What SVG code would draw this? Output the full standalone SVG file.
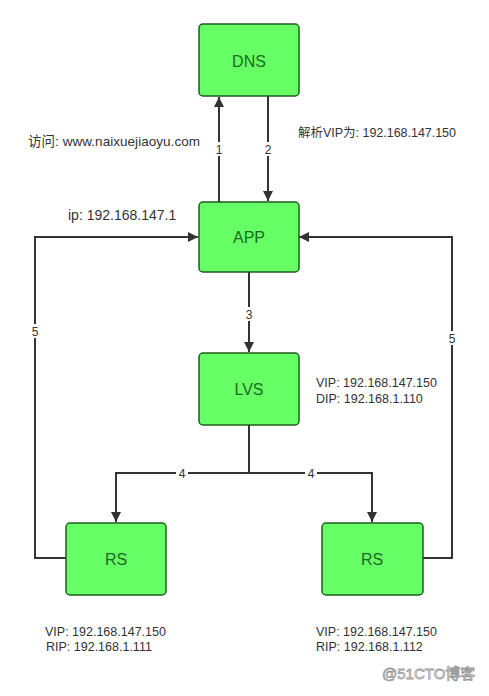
<svg xmlns="http://www.w3.org/2000/svg" width="489" height="696" viewBox="0 0 489 696">
<style>
.box{fill:#66ff66;stroke:#1e5e1e;stroke-width:1.5}
.bt{font-family:"Liberation Sans",Arial,sans-serif;font-size:16px;fill:#1b6b1b;text-anchor:middle}
.c{fill:none;stroke:#333;stroke-width:2}
.t{font-family:"Liberation Sans","Noto Sans CJK SC",sans-serif;font-size:12.5px;fill:#333}
.n{font-family:"Liberation Sans",sans-serif;font-size:12px;fill:#333;text-anchor:middle}
.nb{fill:#fff}
</style>
<defs>
<marker id="ah" viewBox="0 0 10 10" refX="10" refY="5" markerWidth="5.5" markerHeight="5" orient="auto" markerUnits="strokeWidth">
<path d="M0,0 L10,5 L0,10 Z" fill="#333"/>
</marker>
</defs>
<rect width="489" height="696" fill="#fff"/>
<g id="connectors">
<path class="c" d="M219,202 V97" marker-end="url(#ah)"/>
<path class="c" d="M268,96 V201" marker-end="url(#ah)"/>
<path class="c" d="M249,272 V352" marker-end="url(#ah)"/>
<path class="c" d="M249,425 V473 H116 V522" marker-end="url(#ah)"/>
<path class="c" d="M249,473 H372 V522" marker-end="url(#ah)"/>
<path class="c" d="M66,558 H35 V237 H198" marker-end="url(#ah)"/>
<path class="c" d="M423,558 H452 V237 H299" marker-end="url(#ah)"/>
<rect class="nb" x="213" y="142" width="12" height="14"/>
<text class="n" x="219" y="154">1</text>
<rect class="nb" x="262" y="142" width="12" height="14"/>
<text class="n" x="268" y="154">2</text>
<rect class="nb" x="243" y="307" width="12" height="14"/>
<text class="n" x="249" y="319">3</text>
<rect class="nb" x="176" y="466" width="12" height="14"/>
<text class="n" x="182" y="478">4</text>
<rect class="nb" x="305" y="466" width="12" height="14"/>
<text class="n" x="311" y="478">4</text>
<rect class="nb" x="29" y="324" width="12" height="14"/>
<text class="n" x="35" y="336">5</text>
<rect class="nb" x="446" y="331" width="12" height="14"/>
<text class="n" x="452" y="343">5</text>
</g>
<g id="dns">
<rect class="box" x="199" y="24" width="100" height="72" rx="4"/>
<text class="bt" x="249" y="67">DNS</text>
</g>
<g id="app">
<rect class="box" x="199" y="202" width="100" height="70" rx="4"/>
<text class="bt" x="249" y="243">APP</text>
</g>
<g id="lvs">
<rect class="box" x="199" y="353" width="100" height="72" rx="4"/>
<text class="bt" x="249" y="395">LVS</text>
</g>
<g id="rs1">
<rect class="box" x="66" y="523" width="100" height="72" rx="4"/>
<text class="bt" x="116" y="565">RS</text>
</g>
<g id="rs2">
<rect class="box" x="322" y="523" width="101" height="72" rx="4"/>
<text class="bt" x="372" y="565">RS</text>
</g>
<g id="labels">
<text class="t" x="28" y="146" style="font-size:13.5px" textLength="172">访问: www.naixuejiaoyu.com</text>
<text class="t" x="298" y="137" textLength="158">解析VIP为: 192.168.147.150</text>
<text class="t" x="68" y="220" style="font-size:14px">ip: 192.168.147.1</text>
<text class="t" x="316" y="387">VIP: 192.168.147.150</text>
<text class="t" x="316" y="403">DIP: 192.168.1.110</text>
<text class="t" x="45" y="636">VIP: 192.168.147.150</text>
<text class="t" x="46" y="651">RIP: 192.168.1.111</text>
<text class="t" x="316" y="636">VIP: 192.168.147.150</text>
<text class="t" x="316" y="651">RIP: 192.168.1.112</text>
<text x="382" y="679" style="font-family:'Liberation Sans','Noto Sans CJK SC',sans-serif;font-size:15px;fill:#fff;stroke:#999;stroke-width:0.8">@51CTO博客</text>
</g>
</svg>
